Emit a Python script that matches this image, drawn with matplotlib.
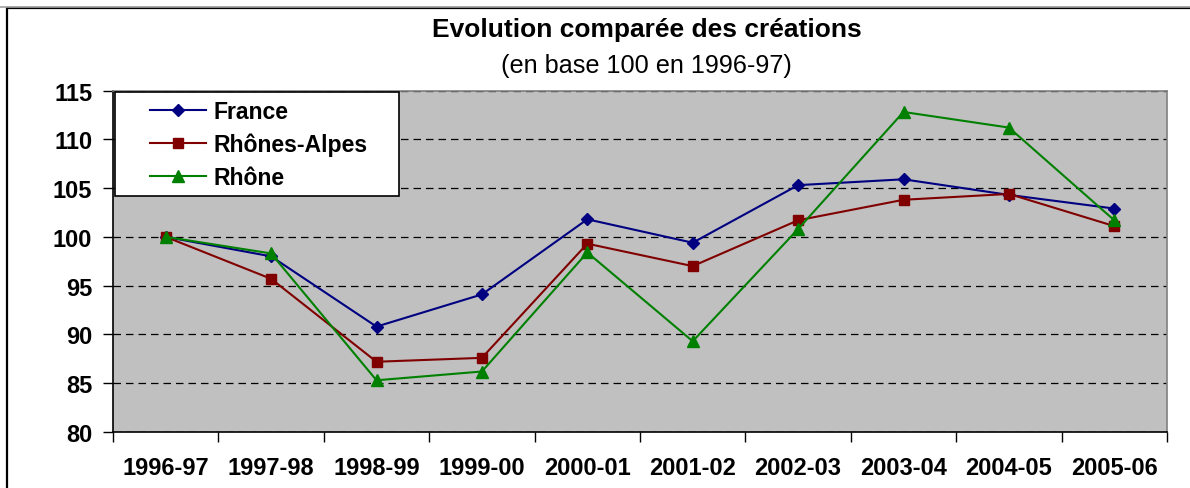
import matplotlib
matplotlib.use("Agg")
import matplotlib.pyplot as plt
from matplotlib.patches import Rectangle
from matplotlib.lines import Line2D

plt.rcParams['font.family'] = ['Liberation Sans', 'DejaVu Sans']

# Données (base 100 en 1996-97)
annees = ['1996-97', '1997-98', '1998-99', '1999-00', '2000-01',
          '2001-02', '2002-03', '2003-04', '2004-05', '2005-06']
france = [100, 98.0, 90.8, 94.1, 101.8, 99.4, 105.3, 105.9, 104.3, 102.9]
rhones_alpes = [100, 95.7, 87.2, 87.6, 99.3, 97.0, 101.7, 103.8, 104.4, 101.1]
rhone = [100, 98.3, 85.3, 86.2, 98.4, 89.3, 100.8, 112.8, 111.2, 101.7]

DPI = 100
W, H = 1190, 489
fig = plt.figure(figsize=(W / DPI, H / DPI), dpi=DPI)

# cadre extérieur du graphique
fig.add_artist(Line2D([0, 1], [1 - 7.5 / H, 1 - 7.5 / H], transform=fig.transFigure,
                      color='#a0a0a0', lw=1.2))
fig.add_artist(Rectangle((7 / W, -0.1), 1.2, 0.1 + 1 - 9 / H, transform=fig.transFigure,
                         fill=False, edgecolor='black', lw=1.6))

left, right, top, bottom = 113, 1167, 91.5, 433
ax = fig.add_axes([left / W, (H - bottom) / H, (right - left) / W, (bottom - top) / H])
ax.set_facecolor('#c0c0c0')

x = list(range(len(annees)))
ax.plot(x, france, color='#000080', lw=1.5, marker='D', ms=6.3, label='France')
ax.plot(x, rhones_alpes, color='#800000', lw=1.5, marker='s', ms=7.6, label='Rhônes-Alpes')
ax.plot(x, rhone, color='#008000', lw=1.5, marker='^', ms=9.2, label='Rhône')

ax.set_ylim(80, 115)
ax.set_xlim(-0.5, len(annees) - 0.5)
ax.set_yticks(range(80, 116, 5))
ax.yaxis.grid(True, color='black', ls=(0, (6, 4)), lw=0.9)
ax.set_axisbelow(True)

ax.set_xticks([i - 0.5 for i in range(len(annees) + 1)])
ax.set_xticklabels([])
ax.set_xticks(x, minor=True)
ax.set_xticklabels(annees, minor=True, fontsize=17, fontweight='bold')
ax.tick_params(axis='x', which='major', length=7, width=1, direction='out')
ax.tick_params(axis='x', which='minor', length=0, pad=17)
ax.tick_params(axis='y', length=7, width=1, labelsize=17, pad=8)
for lbl in ax.get_yticklabels():
    lbl.set_fontweight('bold')

ax.spines['top'].set_color('#808080')
ax.spines['right'].set_color('#808080')
ax.spines['left'].set_color('black')
ax.spines['bottom'].set_color('black')
for s in ax.spines.values():
    s.set_linewidth(1.2)

# légende : cadre blanc + entrées
aw, ah = right - left, bottom - top
ax.add_patch(Rectangle(((115 - left) / aw, (bottom - 197) / ah),
                       (399 - 115) / aw, (197 - 93) / ah,
                       transform=ax.transAxes, facecolor='white', edgecolor='black',
                       lw=1.2, zorder=5))
leg = ax.legend(loc='upper left', bbox_to_anchor=((150 - left) / aw, (bottom - 101) / ah),
                frameon=False, handlelength=2.45, handletextpad=0.3,
                labelspacing=0.43, borderpad=0, borderaxespad=0,
                prop={'weight': 'bold', 'size': 16.6})
leg.set_zorder(6)

fig.text(647 / W, 1 - 30 / H, 'Evolution comparée des créations', ha='center', va='center',
         fontsize=19, fontweight='bold')
fig.text(646 / W, 1 - 66 / H, '(en base 100 en 1996-97)', ha='center', va='center',
         fontsize=18.2)

fig.savefig('out.png', dpi=DPI)
